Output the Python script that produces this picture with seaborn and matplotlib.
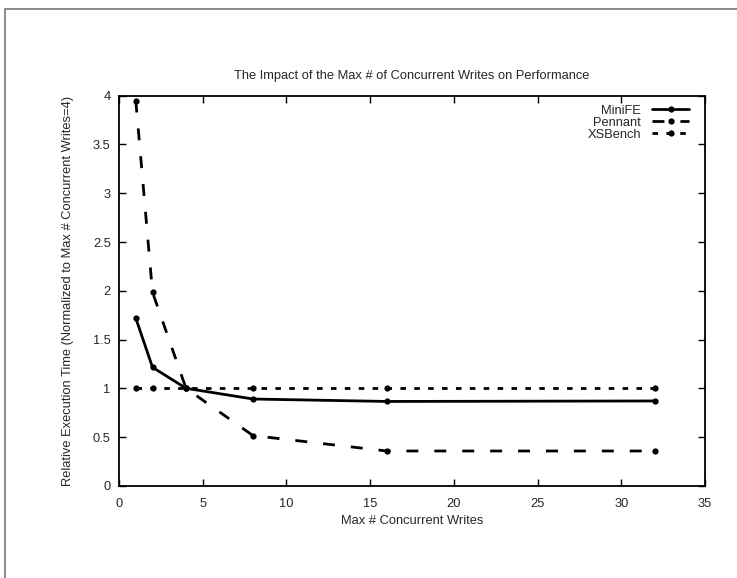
import matplotlib
matplotlib.use("Agg")
import matplotlib.pyplot as plt
import matplotlib.ticker as mticker
from matplotlib.patches import Rectangle
import seaborn as sns
import pandas as pd

# ---- data ----
writes = [1, 2, 4, 8, 16, 32]
minife = [1.72, 1.215, 1.0, 0.89, 0.865, 0.87]
pennant = [3.95, 1.985, 1.0, 0.515, 0.357, 0.357]
xsbench = [1.0, 1.0, 1.0, 1.0, 1.0, 1.0]
series_names = ["MiniFE", "Pennant", "XSBench"]
x_ticks = [0, 5, 10, 15, 20, 25, 30, 35]
y_ticks = [0, 0.5, 1, 1.5, 2, 2.5, 3, 3.5, 4]
title = "The Impact of the Max # of Concurrent Writes on Performance"
xlabel = "Max # Concurrent Writes"
ylabel = "Relative Execution Time (Normalized to Max # Concurrent Writes=4)"

sns.set_style("ticks")
plt.rcParams["font.family"] = ["Liberation Sans", "DejaVu Sans"]
plt.rcParams["lines.scale_dashes"] = False

FS = 9.3

df = pd.DataFrame({
    "writes": writes * 3,
    "value": minife + pennant + xsbench,
    "bench": [n for n in series_names for _ in writes],
})

fig = plt.figure(figsize=(7.37, 5.78), dpi=100)
ax = fig.add_axes([0.1615, 0.1595, 0.9566 - 0.1615, 0.8344 - 0.1595])

dash_map = {"MiniFE": "", "Pennant": (8.6, 11.5), "XSBench": (4.0, 6.0)}
sns.lineplot(data=df, x="writes", y="value", hue="bench", style="bench",
             palette={n: "black" for n in series_names},
             dashes=dash_map, markers={n: "o" for n in series_names},
             markersize=4.5, markeredgewidth=0, linewidth=2.0, ax=ax,
             legend=True)

ax.set_xlim(0, 35)
ax.set_ylim(0, 4)
ax.set_xticks(x_ticks)
ax.set_yticks(y_ticks)
ax.yaxis.set_major_formatter(mticker.FormatStrFormatter("%g"))
ax.tick_params(direction="in", length=5, width=1, top=True, right=True,
               labelsize=FS, color="black")
ax.tick_params(axis="x", pad=8.5)
ax.tick_params(axis="y", pad=6)
for s in ax.spines.values():
    s.set_linewidth(1.3)
    s.set_color("black")

ax.set_title(title, fontsize=FS, pad=12)
ax.set_xlabel(xlabel, fontsize=FS, labelpad=4)
ax.set_ylabel(ylabel, fontsize=FS, labelpad=13.5)

leg = ax.legend(loc="upper right", frameon=False, markerfirst=False,
                fontsize=FS, handlelength=2.85, handletextpad=0.85,
                labelspacing=0.0, borderpad=0, borderaxespad=0,
                bbox_to_anchor=(0.9727, 0.977))
for t in leg.get_texts():
    t.set_ha("right")
leg._legend_box.align = "right"

# outer frame (cropped gnuplot page border)
fig.patches.append(Rectangle((5 / 737, -0.1), 1.2, 1 - 9 / 578 + 0.1,
                             transform=fig.transFigure, fill=False,
                             edgecolor="#777777", linewidth=1.2))

fig.savefig("out.png", dpi=100)
